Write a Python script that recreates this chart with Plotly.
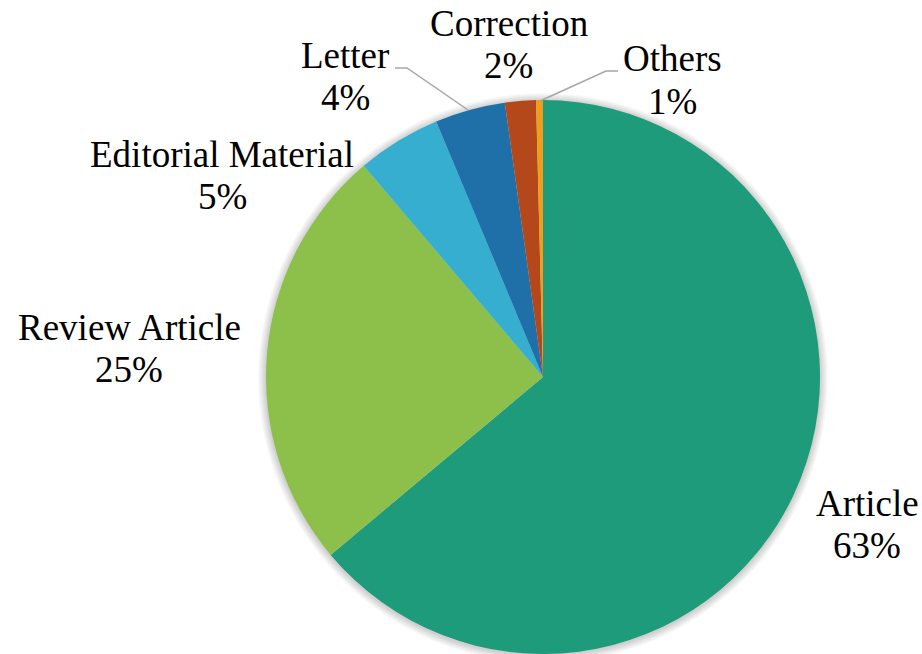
import plotly.graph_objects as go

# ---- data ----
categories = ["Article", "Review Article", "Editorial Material", "Letter", "Correction", "Others"]
shares = [63.9, 24.9, 4.9, 4.1, 1.8, 0.4]           # slice sizes
pct_labels = ["63%", "25%", "5%", "4%", "2%", "1%"]  # percentages as printed on the chart
colors = ["#1E9B7A", "#8CC04B", "#35AECF", "#1F6FA9", "#B5481A", "#F19D1C"]

W, H = 922, 654
CX, CY, R = 543, 377, 277  # pie centre / radius in pixels (layout)

def px(x):
    return x / W

def py(y):
    return 1 - y / H

fig = go.Figure()
fig.add_trace(go.Pie(
    labels=categories,
    values=shares,
    sort=False,
    direction="clockwise",
    rotation=0,
    marker=dict(colors=colors, line=dict(width=0)),
    textinfo="none",
    hoverinfo="label+percent",
    showlegend=False,
    domain=dict(x=[px(CX - R - 20), px(CX + R + 20)], y=[0, py(CY - R)]),
))

# soft shadow behind the pie
shapes = []
for k in range(8, 0, -1):
    shapes.append(dict(
        type="circle", xref="paper", yref="paper", layer="below",
        x0=px(CX - R - k), x1=px(CX + R + k),
        y0=py(CY + R + k + 1), y1=py(CY - R - k + 1),
        fillcolor="rgba(0,0,0,0.022)", line=dict(width=0),
    ))

# leader lines
leaders = {
    "Letter": [(395, 68), (407, 68), (468, 110)],
    "Others": [(618, 71), (606, 71), (540, 101)],
}
for pts in leaders.values():
    path = "M " + " L ".join(f"{px(x)},{py(y)}" for x, y in pts)
    shapes.append(dict(type="path", xref="paper", yref="paper", path=path,
                       line=dict(color="#A6A6A6", width=1.5)))

# label positions (centre x, baseline of first line) in pixels
label_pos = {
    "Article": (867, 515),
    "Review Article": (129, 339),
    "Editorial Material": (222, 166),
    "Letter": (345, 67),
    "Correction": (509, 35),
    "Others": (672, 71),
}
FS = 37
LINE = 42.5
annotations = []
for cat, pct in zip(categories, pct_labels):
    x, base = label_pos[cat]
    for i, txt in enumerate([cat, pct]):
        yc = base + i * LINE - 12
        annotations.append(dict(
            x=px(x), y=py(yc), xref="paper", yref="paper",
            text=txt, showarrow=False, xanchor="center", yanchor="middle",
            font=dict(family="Liberation Serif", size=FS, color="black"),
        ))

fig.update_layout(
    width=W, height=H,
    margin=dict(l=0, r=0, t=0, b=0),
    paper_bgcolor="white",
    plot_bgcolor="white",
    shapes=shapes,
    annotations=annotations,
)

fig.write_html("out.html", config={"displayModeBar": False},
               post_script="document.body.style.margin='0';")
